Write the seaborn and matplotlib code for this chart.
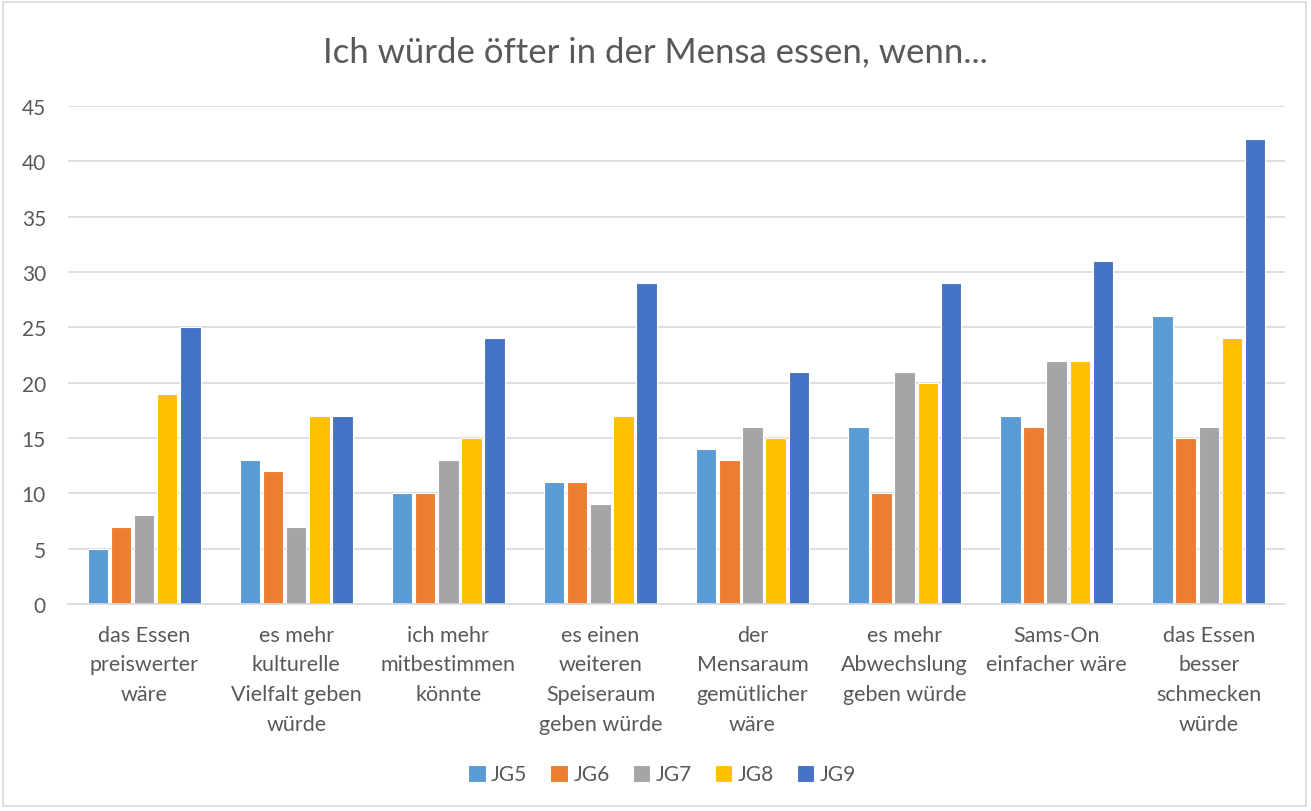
import matplotlib
matplotlib.use("Agg")
import matplotlib.pyplot as plt
import seaborn as sns
import pandas as pd
from matplotlib.patches import Rectangle

categories = [
    "das Essen\npreiswerter\nwäre",
    "es mehr\nkulturelle\nVielfalt geben\nwürde",
    "ich mehr\nmitbestimmen\nkönnte",
    "es einen\nweiteren\nSpeiseraum\ngeben würde",
    "der\nMensaraum\ngemütlicher\nwäre",
    "es mehr\nAbwechslung\ngeben würde",
    "Sams-On\neinfacher wäre",
    "das Essen\nbesser\nschmecken\nwürde",
]
groups = ["JG5", "JG6", "JG7", "JG8", "JG9"]
jg5 = [5, 13, 10, 11, 14, 16, 17, 26]
jg6 = [7, 12, 10, 11, 13, 10, 16, 15]
jg7 = [8, 7, 13, 9, 16, 21, 22, 16]
jg8 = [19, 17, 15, 17, 15, 20, 22, 24]
jg9 = [25, 17, 24, 29, 21, 29, 31, 42]
colors = ["#5B9BD5", "#ED7D31", "#A5A5A5", "#FFC000", "#4472C4"]

rows = []
for g, vals in zip(groups, [jg5, jg6, jg7, jg8, jg9]):
    for c, v in zip(categories, vals):
        rows.append({"Kategorie": c, "Jahrgang": g, "Anzahl": v})
df = pd.DataFrame(rows)

sns.set_theme(style="white")
plt.rcParams["font.family"] = ["Lato", "DejaVu Sans"]
text_color = "#595959"

fig = plt.figure(figsize=(13.11, 8.12), dpi=100)
ax = fig.add_axes([0.052, 0.255, 0.928, 0.613])

sns.barplot(data=df, x="Kategorie", y="Anzahl", hue="Jahrgang",
            order=categories, hue_order=groups, palette=colors,
            width=0.76, gap=0.12, edgecolor="white", linewidth=0.8,
            saturation=1, ax=ax)

ax.set_ylim(0, 45)
ax.set_yticks(range(0, 46, 5))
ax.set_xlim(-0.5, len(categories) - 0.5)
ax.yaxis.grid(True, color="#D9D9D9", linewidth=1.2)
ax.set_axisbelow(True)
for side in ["left", "right", "top"]:
    ax.spines[side].set_visible(False)
ax.spines["bottom"].set_color("#D9D9D9")
ax.spines["bottom"].set_linewidth(1.2)
ax.tick_params(axis="both", length=0, labelcolor=text_color)
ax.tick_params(axis="x", pad=15, labelsize=15.5)
ax.tick_params(axis="y", pad=16, labelsize=15)
for lbl in ax.get_xticklabels():
    lbl.set_linespacing(1.6)
    lbl.set_verticalalignment("top")
ax.set_xlabel("")
ax.set_ylabel("")

fig.suptitle("Ich würde öfter in der Mensa essen, wenn...", y=0.955,
             fontsize=25, color=text_color)

ax.legend(loc="center", bbox_to_anchor=(0.505, 0.045), bbox_transform=fig.transFigure,
          ncol=5, frameon=False, fontsize=15, handlelength=0.85,
          handleheight=0.85, handletextpad=0.25, columnspacing=1.1,
          labelcolor=text_color)

fig.patches.append(Rectangle((0.002, 0.006), 0.994, 0.99, transform=fig.transFigure,
                             fill=False, edgecolor="#D9D9D9", linewidth=1.2))

fig.savefig("out.png", dpi=100)
